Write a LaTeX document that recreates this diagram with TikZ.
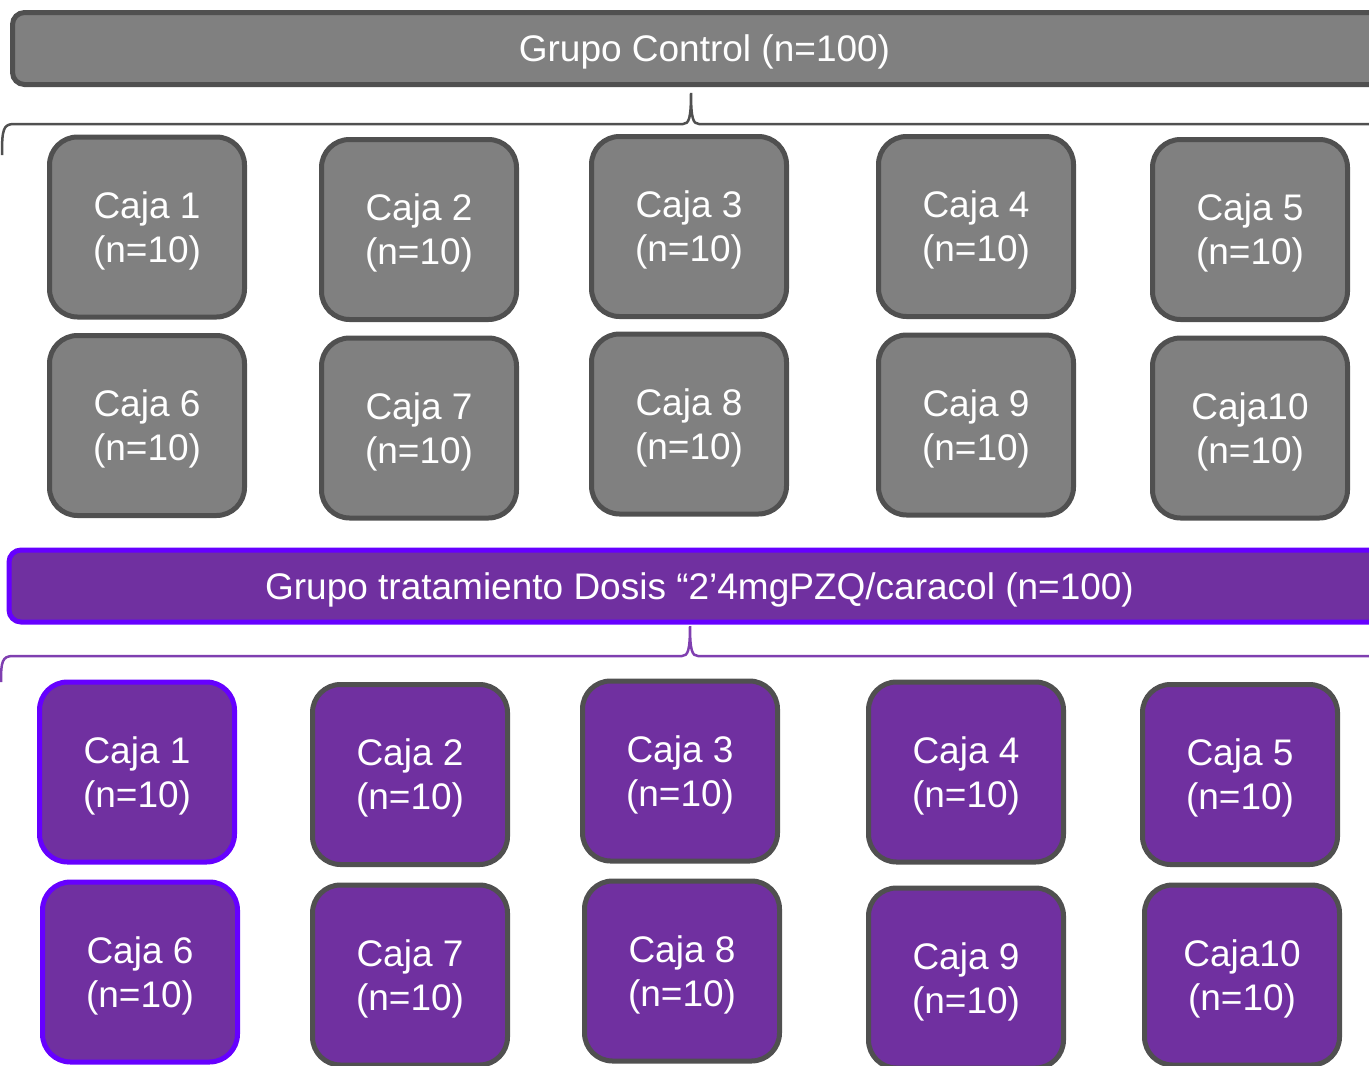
\documentclass[tikz,border=0pt]{standalone}
\usepackage{fontspec}
\setmainfont{Liberation Sans}
\usepackage{xcolor}
\usetikzlibrary{positioning}

\definecolor{grisfondo}{HTML}{808080}
\definecolor{grisborde}{HTML}{505050}
\definecolor{morado}{HTML}{7030A0}
\definecolor{violeta}{HTML}{6600FF}
\definecolor{moradollave}{HTML}{7F3FB0}

\begin{document}
\begin{tikzpicture}[
    x=1pt, y=-1pt,
    every node/.style={align=center, text=white, text depth=0pt, font=\fontsize{37}{44}\selectfont},
    caja/.style={draw=grisborde, line width=5pt, rounded corners=28pt, minimum width=195pt, minimum height=180pt, inner sep=0pt},
    gris/.style={caja, fill=grisfondo},
    lila/.style={caja, fill=morado},
    barra/.style={line width=5pt, rounded corners=12pt, minimum height=72pt, inner sep=0pt},
    llave/.style={line width=2.5pt}
]
\useasboundingbox (0,0) rectangle (1369,1066);
\clip (0,0) rectangle (1369,1066);

% Grupo control
\node[barra, draw=grisborde, fill=grisfondo, minimum width=1384pt] (ctrl) at (704.5,48.5) {Grupo Control (n=100)};

\coordinate (ctrltip) at (691,93);
\draw[llave, grisborde] (2,155) .. controls (2,130) and (3,124) .. (14,124) -- (683,124)
  .. controls (689,124) and (691,118) .. (ctrltip)
  .. controls (691,118) and (693,124) .. (699,124) -- (1380,124);

\node[gris] (c1) at (147,227) {Caja 1\\(n=10)};
\node[gris] (c2) at (419,229.5) {Caja 2\\(n=10)};
\node[gris] (c3) at (689,226.5) {Caja 3\\(n=10)};
\node[gris] (c4) at (976,226.5) {Caja 4\\(n=10)};
\node[gris] (c5) at (1250,229.5) {Caja 5\\(n=10)};
\node[gris] (c6) at (147,425.5) {Caja 6\\(n=10)};
\node[gris] (c7) at (419,428) {Caja 7\\(n=10)};
\node[gris] (c8) at (689,424) {Caja 8\\(n=10)};
\node[gris] (c9) at (976,425) {Caja 9\\(n=10)};
\node[gris] (c10) at (1250,428) {Caja10\\(n=10)};

% Grupo tratamiento
\node[barra, draw=violeta, fill=morado, minimum width=1381pt] (trat) at (699.5,586) {Grupo tratamiento Dosis “2’4mgPZQ/caracol (n=100)};

\coordinate (trattip) at (690,626);
\draw[llave, moradollave] (1,682) .. controls (1,662) and (2,656) .. (13,656) -- (682,656)
  .. controls (688,656) and (690,650) .. (trattip)
  .. controls (690,650) and (692,656) .. (698,656) -- (1380,656);

\node[lila, draw=violeta] (t1) at (137,772) {Caja 1\\(n=10)};
\node[lila] (t2) at (410,774.5) {Caja 2\\(n=10)};
\node[lila] (t3) at (680,771) {Caja 3\\(n=10)};
\node[lila] (t4) at (966,772) {Caja 4\\(n=10)};
\node[lila] (t5) at (1240,774.5) {Caja 5\\(n=10)};
\node[lila, draw=violeta] (t6) at (140,972) {Caja 6\\(n=10)};
\node[lila] (t7) at (410,975) {Caja 7\\(n=10)};
\node[lila] (t8) at (682,971) {Caja 8\\(n=10)};
\node[lila] (t9) at (966,978) {Caja 9\\(n=10)};
\node[lila] (t10) at (1242,975) {Caja10\\(n=10)};

\end{tikzpicture}
\end{document}
